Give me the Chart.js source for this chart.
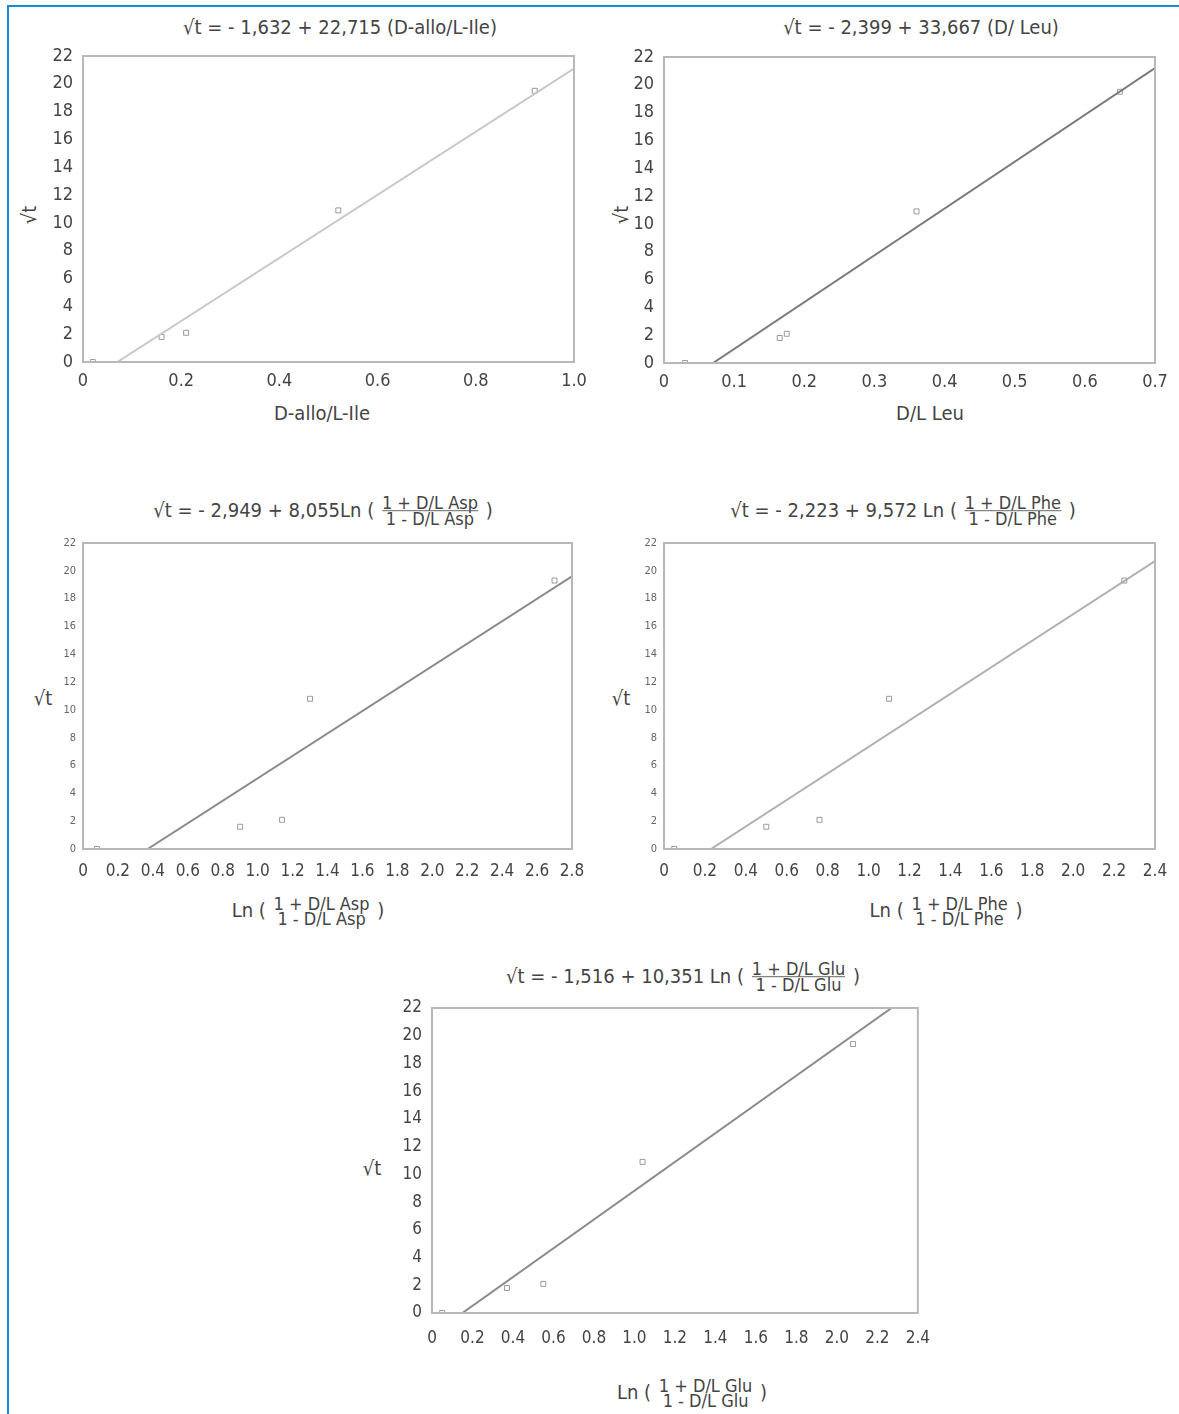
<!DOCTYPE html>
<html>
<head>
<meta charset="utf-8">
<script src="https://cdn.jsdelivr.net/npm/chart.js@4/dist/chart.umd.min.js"></script>
<style>
  body { margin: 0; background: #fff; }
  #page { position: relative; width: 1179px; height: 1414px; overflow: hidden; font-family: "Liberation Sans Narrow", "DejaVu Sans Condensed", sans-serif; color: #444; }
  #frame { position: absolute; left: 7px; top: 5px; right: -5px; bottom: -5px; border-top: 2px solid #1a8ad4; border-left: 2px solid #1a8ad4; }
  .box { position: absolute; }
  .lbl { position: absolute; transform: translate(-50%, -50%); white-space: nowrap; font-size: 20px; color: #444; }
  .frac { display: inline-flex; flex-direction: column; vertical-align: middle; text-align: center; font-size: 0.9em; line-height: 0.85; margin: 0 2px; }
  .ttl .frac > span:first-child { border-bottom: 1px solid #666; }
  .rot { transform: translate(-50%, -50%) rotate(-90deg); }
</style>
</head>
<body>
<div id="page">
  <div id="frame"></div>

  <div class="lbl ttl" style="left:340px; top:27px">√t = - 1,632 + 22,715 (D-allo/L-Ile)</div>
  <div class="lbl ttl" style="left:921px; top:27px">√t = - 2,399 + 33,667 (D/ Leu)</div>
  <div class="lbl ttl" style="left:323px; top:511px">√t = - 2,949 + 8,055Ln ( <span class="frac"><span>1 + D/L Asp</span><span>1 - D/L Asp</span></span> )</div>
  <div class="lbl ttl" style="left:903px; top:511px">√t = - 2,223 + 9,572 Ln ( <span class="frac"><span>1 + D/L Phe</span><span>1 - D/L Phe</span></span> )</div>
  <div class="lbl ttl" style="left:683px; top:977px">√t = - 1,516 + 10,351 Ln ( <span class="frac"><span>1 + D/L Glu</span><span>1 - D/L Glu</span></span> )</div>

  <div class="lbl" style="left:322px; top:413px">D-allo/L-Ile</div>
  <div class="lbl" style="left:930px; top:413px">D/L Leu</div>
  <div class="lbl" style="left:308px; top:911px">Ln ( <span class="frac"><span>1 + D/L Asp</span><span>1 - D/L Asp</span></span> )</div>
  <div class="lbl" style="left:946px; top:911px">Ln ( <span class="frac"><span>1 + D/L Phe</span><span>1 - D/L Phe</span></span> )</div>
  <div class="lbl" style="left:692px; top:1393px">Ln ( <span class="frac"><span>1 + D/L Glu</span><span>1 - D/L Glu</span></span> )</div>

  <div class="lbl rot" style="left:29px; top:215px">√t</div>
  <div class="lbl rot" style="left:621px; top:215px">√t</div>
  <div class="lbl" style="left:43px; top:698px">√t</div>
  <div class="lbl" style="left:621px; top:698px">√t</div>
  <div class="lbl" style="left:372px; top:1168px">√t</div>

  <div class="box" id="b1"><canvas id="c1"></canvas></div>
  <div class="box" id="b2"><canvas id="c2"></canvas></div>
  <div class="box" id="b3"><canvas id="c3"></canvas></div>
  <div class="box" id="b4"><canvas id="c4"></canvas></div>
  <div class="box" id="b5"><canvas id="c5"></canvas></div>
</div>

<script>
// valores
const yTicks = ['0', '2', '4', '6', '8', '10', '12', '14', '16', '18', '20', '22'];

const ileX = [0.02, 0.16, 0.21, 0.52, 0.92];
const ileY = [0, 1.8, 2.1, 10.9, 19.5];
const ileFitX = [0.07, 1.0];
const ileFitY = [0, 21.1];
const ileTicks = ['0', '0.2', '0.4', '0.6', '0.8', '1.0'];

const leuX = [0.03, 0.165, 0.175, 0.36, 0.65];
const leuY = [0, 1.8, 2.1, 10.9, 19.5];
const leuFitX = [0.07, 0.7];
const leuFitY = [0, 21.2];
const leuTicks = ['0', '0.1', '0.2', '0.3', '0.4', '0.5', '0.6', '0.7'];

const aspX = [0.08, 0.9, 1.14, 1.3, 2.7];
const aspY = [0, 1.6, 2.1, 10.8, 19.3];
const aspFitX = [0.37, 2.8];
const aspFitY = [0, 19.6];
const aspTicks = ['0', '0.2', '0.4', '0.6', '0.8', '1.0', '1.2', '1.4', '1.6', '1.8', '2.0', '2.2', '2.4', '2.6', '2.8'];

const pheX = [0.05, 0.5, 0.76, 1.1, 2.25];
const pheY = [0, 1.6, 2.1, 10.8, 19.3];
const pheFitX = [0.23, 2.4];
const pheFitY = [0, 20.7];
const pheTicks = ['0', '0.2', '0.4', '0.6', '0.8', '1.0', '1.2', '1.4', '1.6', '1.8', '2.0', '2.2', '2.4'];

const gluX = [0.05, 0.37, 0.55, 1.04, 2.08];
const gluY = [0, 1.8, 2.1, 10.9, 19.4];
const gluFitX = [0.15, 2.27];
const gluFitY = [0, 22];
const gluTicks = ['0', '0.2', '0.4', '0.6', '0.8', '1.0', '1.2', '1.4', '1.6', '1.8', '2.0', '2.2', '2.4'];

const PAD_L = 50, PAD_T = 24, PAD_R = 25, PAD_B = 40;
const FONT = '"Liberation Sans Narrow", "DejaVu Sans Condensed", sans-serif';

// marco completo alrededor del área
const boxPlugin = {
  id: 'boxPlugin',
  afterDraw(chart) {
    const a = chart.chartArea, ctx = chart.ctx;
    ctx.save();
    ctx.strokeStyle = '#b8b8b8';
    ctx.lineWidth = 2;
    ctx.strokeRect(a.left, a.top, a.right - a.left, a.bottom - a.top);
    ctx.restore();
  }
};

function zip(xs, ys) {
  return xs.map((x, i) => ({ x: x, y: ys[i] }));
}

function makePlot(id, area, xs, ys, fitX, fitY, xTicks, xMax, xStep, opts) {
  const box = document.getElementById('b' + id);
  const w = area.r - area.l + PAD_L + PAD_R;
  const h = area.b - area.t + PAD_T + PAD_B;
  box.style.left = (area.l - PAD_L) + 'px';
  box.style.top = (area.t - PAD_T) + 'px';
  box.style.width = w + 'px';
  box.style.height = h + 'px';

  new Chart(document.getElementById('c' + id), {
    type: 'scatter',
    data: {
      datasets: [{
        data: zip(fitX, fitY),
        showLine: true,
        borderColor: opts.lineColor,
        borderWidth: 2,
        pointRadius: 0
      }, {
        data: zip(xs, ys),
        pointStyle: 'rect',
        pointRadius: 3.5,
        borderColor: '#9a9a9a',
        borderWidth: 1,
        backgroundColor: 'rgba(0,0,0,0)'
      }]
    },
    options: {
      responsive: true,
      maintainAspectRatio: false,
      animation: false,
      layout: { padding: { left: 0, top: PAD_T, right: PAD_R, bottom: 0 } },
      plugins: { legend: { display: false }, tooltip: { enabled: false } },
      scales: {
        x: {
          type: 'linear', min: 0, max: xMax,
          grid: { display: false, drawTicks: false }, border: { display: false },
          afterFit: s => { s.height = PAD_B; },
          afterBuildTicks: s => {
            s.ticks = xTicks.map((t, i) => ({ value: i * xStep }));
          },
          ticks: {
            autoSkip: false, maxRotation: 0, padding: opts.xPad,
            color: '#444', font: { family: FONT, size: opts.xFont },
            callback: (v, i) => xTicks[i]
          }
        },
        y: {
          type: 'linear', min: 0, max: 22,
          grid: { display: false, drawTicks: false }, border: { display: false },
          afterFit: s => { s.width = PAD_L; },
          afterBuildTicks: s => {
            s.ticks = yTicks.map((t, i) => ({ value: i * 2 }));
          },
          ticks: {
            autoSkip: false, padding: opts.yPad,
            color: opts.yColor, font: { family: FONT, size: opts.yFont },
            callback: (v, i) => yTicks[i]
          }
        }
      }
    },
    plugins: [boxPlugin]
  });
}

makePlot(1, { l: 83, r: 574, t: 56, b: 362 }, ileX, ileY, ileFitX, ileFitY, ileTicks, 1.0, 0.2,
  { lineColor: '#c8c8c8', xFont: 18, yFont: 18, yColor: '#444', yPad: 10, xPad: 9 });
makePlot(2, { l: 664, r: 1155, t: 57, b: 363 }, leuX, leuY, leuFitX, leuFitY, leuTicks, 0.7, 0.1,
  { lineColor: '#7a7a7a', xFont: 18, yFont: 18, yColor: '#444', yPad: 10, xPad: 9 });
makePlot(3, { l: 83, r: 572, t: 543, b: 849 }, aspX, aspY, aspFitX, aspFitY, aspTicks, 2.8, 0.2,
  { lineColor: '#8a8a8a', xFont: 17, yFont: 11, yColor: '#666', yPad: 7, xPad: 12 });
makePlot(4, { l: 664, r: 1155, t: 543, b: 849 }, pheX, pheY, pheFitX, pheFitY, pheTicks, 2.4, 0.2,
  { lineColor: '#b0b0b0', xFont: 17, yFont: 11, yColor: '#666', yPad: 7, xPad: 12 });
makePlot(5, { l: 432, r: 920, t: 1008, b: 1313 }, gluX, gluY, gluFitX, gluFitY, gluTicks, 2.4, 0.2,
  { lineColor: '#8a8a8a', xFont: 17, yFont: 17, yColor: '#444', yPad: 10, xPad: 15 });
</script>
</body>
</html>
